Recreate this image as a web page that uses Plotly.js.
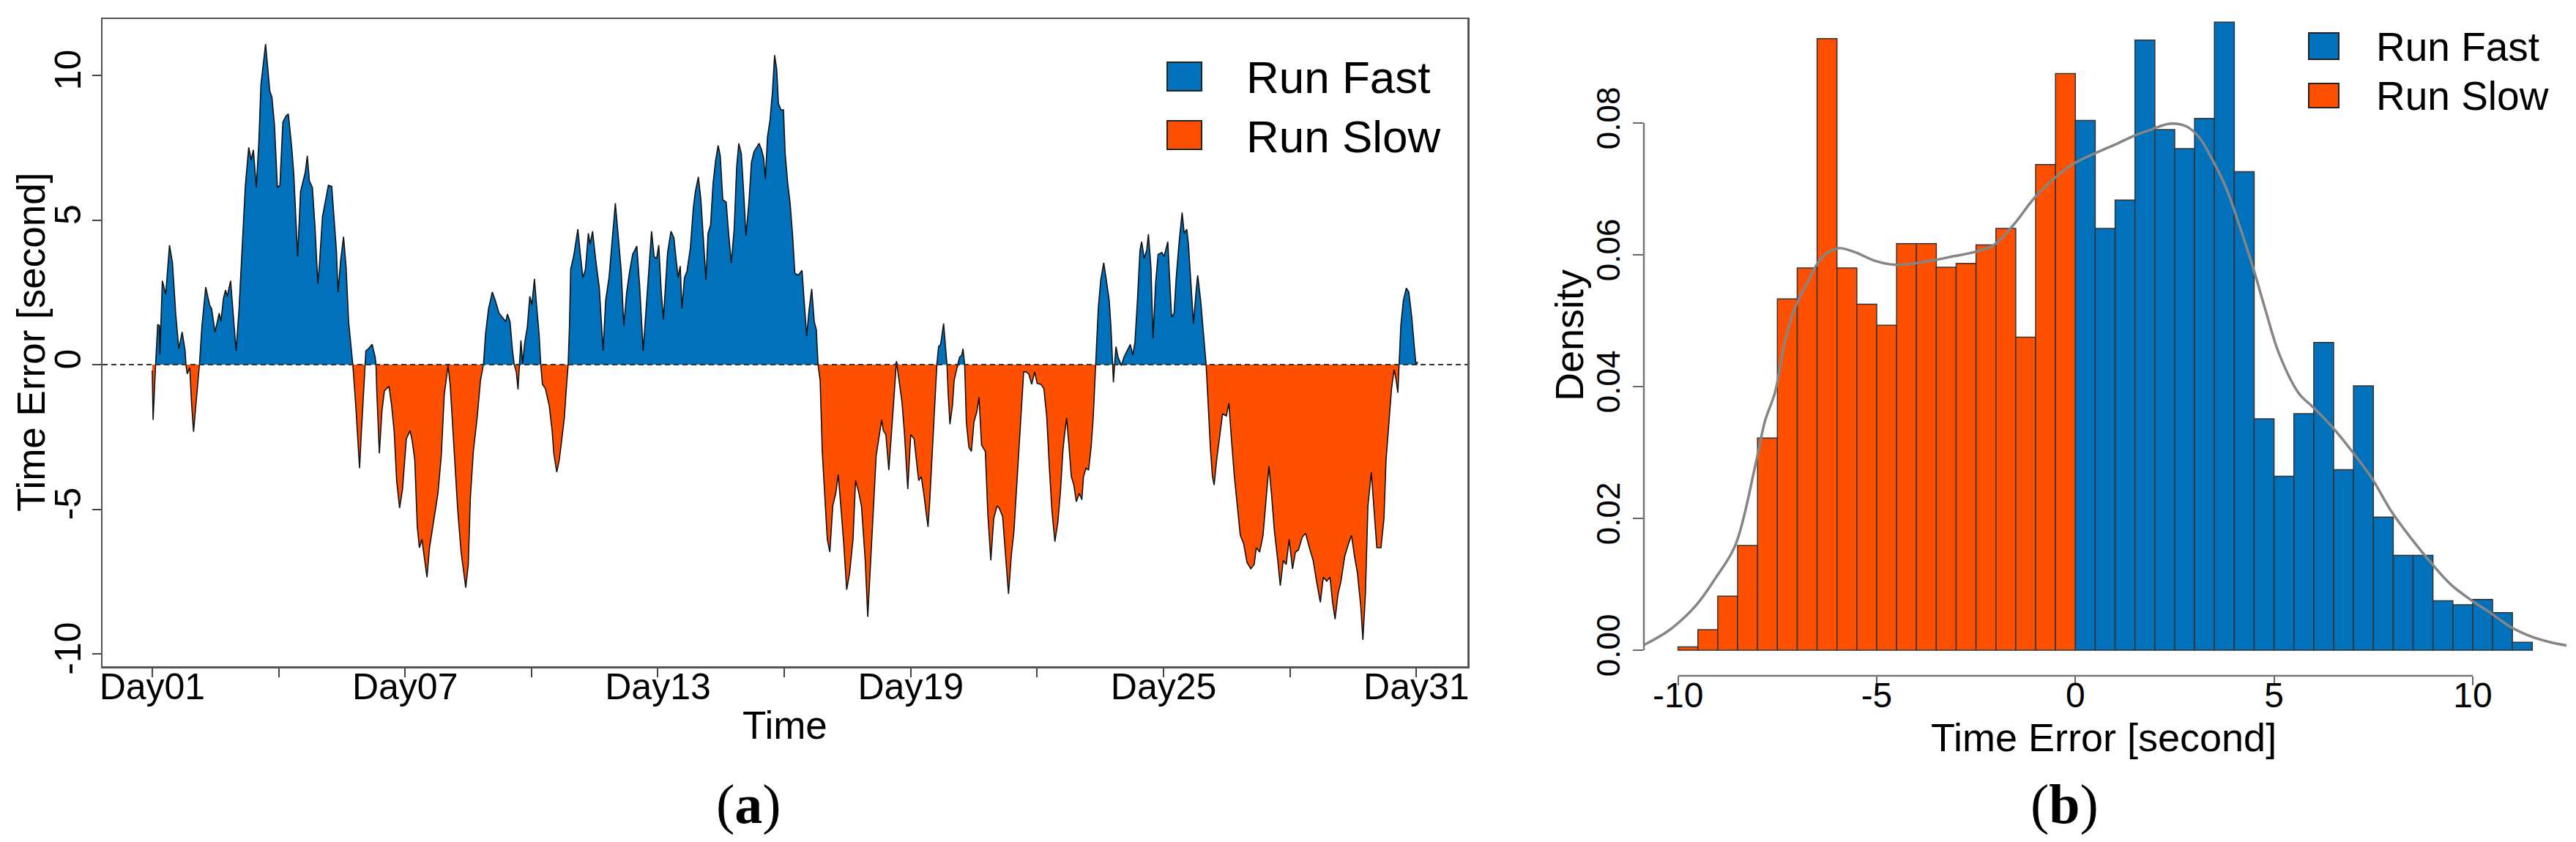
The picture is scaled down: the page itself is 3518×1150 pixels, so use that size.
<!DOCTYPE html>
<html>
<head>
<meta charset="utf-8">
<script src="https://cdn.plot.ly/plotly-3.0.1.min.js"></script>
<style>html,body{margin:0;padding:0;background:#fff;}#chart{width:3518px;height:1150px;}</style>
</head>
<body>
<div id="chart"></div>
<script>
// ---------- Panel (a): time error series (days since Day01) ----------
const timeDays = [0.00,0.02,0.08,0.13,0.17,0.18,0.24,0.32,0.41,0.48,0.56,0.63,0.71,0.78,0.80,0.83,0.89,0.93,0.98,1.06,1.12,1.18,1.27,1.36,1.41,1.49,1.59,1.63,1.69,1.74,1.78,1.86,1.93,1.99,2.06,2.14,2.21,2.29,2.35,2.40,2.47,2.53,2.58,2.69,2.79,2.84,2.90,2.97,3.03,3.10,3.17,3.23,3.31,3.36,3.45,3.52,3.63,3.68,3.73,3.80,3.86,3.93,3.97,4.04,4.12,4.18,4.26,4.32,4.37,4.41,4.47,4.54,4.60,4.66,4.76,4.83,4.92,4.96,5.04,5.07,5.13,5.22,5.29,5.31,5.33,5.39,5.45,5.51,5.62,5.68,5.74,5.80,5.87,5.94,
6.03,6.12,6.17,6.23,6.29,6.34,6.40,6.45,6.52,6.58,6.64,6.71,6.78,6.86,6.93,7.02,7.07,7.16,7.25,7.33,7.39,7.44,7.50,7.55,7.62,7.71,7.79,7.86,7.91,7.98,8.07,8.14,8.23,8.31,8.39,8.43,8.49,8.55,8.59,8.64,8.68,8.71,8.75,8.79,8.84,8.90,8.96,9.01,9.07,9.12,9.18,9.22,9.26,9.33,9.42,9.49,9.53,9.60,9.66,9.72,9.78,9.82,9.87,9.90,9.93,10.00,10.10,10.16,10.22,10.28,10.35,10.39,10.45,10.52,10.61,10.70,10.76,10.84,10.91,10.99,11.07,11.13,11.19,11.26,11.33,11.40,11.50,11.57,11.65,11.71,11.78,11.85,11.91,11.97,12.02,
12.08,12.13,12.19,12.23,12.31,12.38,12.43,12.48,12.53,12.57,12.63,12.69,12.77,12.84,12.89,12.96,13.02,13.08,13.14,13.19,13.25,13.31,13.37,13.43,13.48,13.54,13.62,13.67,13.74,13.81,13.87,13.92,13.98,14.04,14.09,14.16,14.22,14.28,14.34,14.40,14.46,14.51,14.55,14.60,14.66,14.72,14.77,14.82,14.86,14.92,14.98,15.02,15.08,15.14,15.20,15.25,15.33,15.42,15.47,15.53,15.59,15.65,15.71,15.76,15.80,15.85,15.90,15.96,16.02,16.08,16.15,16.22,16.28,16.34,16.41,16.48,16.55,16.63,16.69,16.76,16.83,16.92,16.98,17.05,17.12,17.18,17.24,17.31,17.35,17.41,17.48,17.56,17.61,17.66,17.71,17.79,17.85,17.93,18.00,18.08,
18.16,18.19,18.25,18.31,18.37,18.41,18.45,18.51,18.56,18.62,18.66,18.71,18.78,18.83,18.86,18.89,18.93,18.99,19.03,19.10,19.16,19.21,19.24,19.28,19.32,19.38,19.44,19.50,19.57,19.62,19.68,19.77,19.83,19.90,19.97,20.05,20.10,20.18,20.25,20.32,20.39,20.45,20.51,20.57,20.63,20.68,20.74,20.80,20.87,20.94,21.00,21.09,21.16,21.23,21.29,21.35,21.42,21.49,21.55,21.61,21.65,21.70,21.75,21.81,21.87,21.93,22.00,22.06,22.10,22.16,22.22,22.28,22.33,22.39,22.45,22.51,22.58,22.64,22.71,22.75,22.79,22.81,22.84,22.87,22.92,23.00,23.06,23.14,23.21,23.27,23.32,23.38,23.44,23.48,23.54,23.60,23.64,23.70,23.75,23.81,23.87,23.96,24.01,
24.05,24.10,24.14,24.19,24.25,24.30,24.37,24.44,24.49,24.55,24.59,24.65,24.71,24.77,24.81,24.88,24.94,25.01,25.06,25.11,25.16,25.20,25.26,25.32,25.40,25.49,25.55,25.61,25.68,25.75,25.82,25.90,25.98,26.07,26.15,26.20,26.28,26.36,26.44,26.50,26.56,26.63,26.71,26.77,26.84,26.91,26.98,27.06,27.13,27.20,27.29,27.37,27.46,27.55,27.63,27.72,27.79,27.87,27.95,28.01,28.07,28.14,28.21,28.30,28.39,28.46,28.53,28.60,28.68,28.73,28.79,28.85,28.93,28.99,29.06,29.16,29.23,29.28,29.34,29.41,29.47,29.52,29.56,29.59,29.63,29.69,29.76,29.82,29.89,29.95,29.99,30.03];

const timeError = [-0.2,-1.91,0,1.39,1.35,0.36,2.9,2.43,4.13,3.52,1.71,0.55,1.13,0.48,0,-0.32,-0.1,-1.26,-2.32,-0.97,0,1.35,2.68,2.07,1.93,1.13,1.78,1.49,2.29,2.58,2.36,2.9,1.64,0.48,1.93,4.25,6.2,7.51,7.07,7.43,6.13,7.72,9.68,11.09,9.46,9.25,8.3,6.13,6.2,8.38,8.59,8.67,7.51,6.57,3.74,5.99,6.64,7.22,6.35,6.13,4.83,2.8,3.52,5.12,5.7,6.2,6.16,4.97,3.96,2.51,3.59,4.42,3.38,1.49,0,-1.41,-3.58,-2.42,-0.1,0.48,0.55,0.7,0.26,0,-0.97,-3.07,-1.62,-0.9,-0.75,-1.41,-2.28,-4.01,-4.96,-4.3,
-2.57,-2.28,-2.64,-3.29,-5.61,-6.33,-6.04,-6.62,-7.35,-6.33,-5.75,-5.03,-4.45,-3.14,-1.04,-0.03,-0.68,-2.86,-5.03,-6.48,-7.2,-7.71,-6.91,-4.59,-3.0,-1.84,-0.54,0,1.06,1.93,2.51,2.22,1.78,1.64,1.49,1.75,1.49,0.48,0,-0.25,-0.86,-0.1,0.84,0.04,0.77,1.28,2.36,2.07,2.97,2.07,1.06,0,-0.68,-0.83,-1.41,-2.28,-3.07,-3.72,-3.29,-2.57,-1.84,-0.97,0,1.28,3.3,3.74,4.68,3.81,3.01,3.3,4.54,4.17,4.61,3.67,2.65,0.48,2.22,3.01,4.17,5.58,4.25,3.23,1.35,2.51,3.23,3.81,4.1,2.65,0.48,1.71,3.38,4.61,3.74,3.67,4.13,
2.51,1.57,2.8,3.88,4.61,4.39,3.67,3.01,3.41,1.93,3.01,3.23,4.03,5.41,5.99,6.49,5.7,4.25,2.94,4.54,4.83,6.28,7.07,7.58,7.22,5.7,5.62,4.68,3.52,4.68,6.86,7.65,7.29,5.84,4.46,5.62,7.0,7.36,7.51,7.65,7.43,7.14,6.42,7.87,8.45,9.46,10.7,10.2,9.03,8.81,8.81,7.29,6.28,5.55,4.39,3.16,3.09,3.26,2.22,0.99,1.93,2.62,1.49,1.2,0,-0.54,-3.0,-4.59,-6.04,-6.48,-4.88,-4.45,-3.8,-4.88,-6.19,-7.78,-7.2,-6.04,-4.01,-4.38,-4.88,-6.77,-8.72,-6.77,-4.74,-3.14,-2.57,-1.91,-2.28,-2.42,-3.65,-2.13,-0.97,0.12,-0.39,-1.26,-2.35,-4.3,-2.42,-2.57,
-3.65,-4.01,-3.87,-4.45,-5.17,-5.61,-4.74,-3.0,-1.55,0,0.62,0.7,1.42,0.62,0,-1.04,-2.06,-1.41,-0.54,-0.1,0.26,0.33,0.55,0,-1.99,-2.86,-3.0,-1.99,-1.62,-1.12,-2.78,-3.0,-5.17,-6.77,-5.32,-4.88,-4.96,-5.25,-6.48,-7.93,-6.55,-5.75,-4.3,-2.86,-1.55,-0.25,-0.25,-0.32,-0.68,-0.25,-0.65,-0.68,-0.83,-1.84,-3.58,-5.03,-6.12,-5.46,-4.45,-3.0,-2.42,-1.84,-2.71,-3.87,-4.16,-4.74,-4.45,-4.67,-3.87,-3.58,-3.65,-2.86,-1.84,0,1.93,2.94,3.52,2.94,2.22,1.35,0,-0.61,0.04,0.62,0.26,-0.03,0.26,0.48,0.7,0.33,0.77,2.22,3.96,4.25,3.67,3.96,4.51,3.38,0.91,2.8,3.81,3.88,3.74,
3.96,4.25,3.09,1.64,1.78,3.01,4.25,5.26,4.54,4.68,4.17,2.8,1.42,2.51,3.09,2.22,1.28,0,-1.41,-2.86,-3.87,-4.16,-3.29,-2.57,-1.7,-1.77,-1.33,-2.57,-3.87,-4.88,-5.9,-6.19,-6.84,-7.06,-6.91,-6.33,-6.48,-5.9,-4.45,-3.51,-4.45,-5.75,-6.77,-7.64,-6.77,-6.91,-6.04,-7.06,-6.48,-6.41,-5.97,-5.83,-6.33,-6.77,-7.49,-8.22,-7.35,-7.49,-7.35,-8.22,-8.8,-7.93,-7.49,-6.62,-6.19,-5.9,-6.62,-7.2,-8.36,-9.52,-7.93,-4.88,-3.72,-5.03,-6.33,-6.33,-5.32,-3.29,-2.13,-0.83,-0.17,-0.54,-0.97,0,1.35,2.22,2.65,2.51,1.64,0.62,0,0.1];

const dayTickVals = [0,3,6,9,12,15,18,21,24,27,30];
const dayTickText = ["Day01","","Day07","","Day13","","Day19","","Day25","","Day31"];
const errTickVals = [-10,-5,0,5,10];
const errTickText = ["-10","-5","0","5","10"];

// ---------- Panel (b): histogram (bin start, width 0.5) ----------
const slowBins = [-10,-9.5,-9,-8.5,-8,-7.5,-7,-6.5,-6,-5.5,-5,-4.5,-4,-3.5,-3,-2.5,-2,-1.5,-1,-0.5];
const slowDensity = [0.0005,0.0031,0.0082,0.0159,0.0322,0.0533,0.0580,0.0928,0.0580,0.0525,0.0493,0.0617,0.0617,0.0581,0.0587,0.0615,0.0640,0.0475,0.0737,0.0875];
const fastBins = [0,0.5,1,1.5,2,2.5,3,3.5,4,4.5,5,5.5,6,6.5,7,7.5,8,8.5,9,9.5,10,10.5,11];
const fastDensity = [0.0804,0.0640,0.0683,0.0926,0.0790,0.0761,0.0807,0.0953,0.0726,0.0351,0.0264,0.0359,0.0467,0.0274,0.0401,0.0202,0.0144,0.0144,0.0075,0.0069,0.0077,0.0057,0.0012];
const binWidth = 0.5;
const kdeX = [-10.89,-10.23,-9.56,-9.06,-8.56,-8.06,-7.81,-7.56,-7.31,-7.06,-6.72,-6.39,-5.97,-5.55,-5.05,-4.56,-4.05,-3.55,-3.05,-2.55,-2.05,-1.55,-1.05,-0.55,-0.05,0.45,0.95,1.45,1.95,2.37,2.79,3.12,3.45,3.79,4.12,4.46,4.79,5.12,5.62,5.96,6.46,6.96,7.46,7.96,8.46,8.96,9.46,9.96,10.46,10.96,11.46,11.96,12.38];
const kdeY = [0.0007,0.0030,0.0067,0.0109,0.0159,0.0279,0.0348,0.0391,0.0468,0.0519,0.0561,0.0595,0.0610,0.0604,0.0591,0.0585,0.0587,0.0592,0.0598,0.0604,0.0615,0.0646,0.0685,0.0715,0.0738,0.0753,0.0766,0.0780,0.0791,0.0799,0.0795,0.0778,0.0744,0.0702,0.0646,0.0583,0.0515,0.0451,0.0390,0.0370,0.0339,0.0302,0.0261,0.0210,0.0169,0.0132,0.0099,0.0076,0.0056,0.0035,0.0021,0.0012,0.0007];
const errBTickVals = [-10,-5,0,5,10];
const errBTickText = ["-10","-5","0","5","10"];
const densTickVals = [0,0.02,0.04,0.06,0.08];
const densTickText = ["0.00","0.02","0.04","0.06","0.08"];

const legendNames = ["Run Fast","Run Slow"];
const BLUE = "#0071BA", ORANGE = "#FF5000";

// ---------- geometry helpers (paper coords from pixel positions) ----------
const W = 3518, H = 1150;
const px = x => x / W, py = y => 1 - y / H;
const FONT = "Liberation Sans, Arial, sans-serif";

const posErr = timeError.map(v => v > 0 ? v : 0);
const negErr = timeError.map(v => v < 0 ? v : 0);

const traces = [
  {x: timeDays, y: negErr, type: "scatter", mode: "lines", fill: "tozeroy", fillcolor: ORANGE,
   line: {width: 0, color: ORANGE}, xaxis: "x", yaxis: "y", hoverinfo: "skip", showlegend: false},
  {x: timeDays, y: posErr, type: "scatter", mode: "lines", fill: "tozeroy", fillcolor: BLUE,
   line: {width: 0, color: BLUE}, xaxis: "x", yaxis: "y", hoverinfo: "skip", showlegend: false},
  {x: timeDays, y: timeError, type: "scatter", mode: "lines", line: {width: 1.6, color: "#111"},
   xaxis: "x", yaxis: "y", showlegend: false},
  {x: slowBins, y: slowDensity, type: "bar", width: binWidth, offset: 0, marker: {color: ORANGE, line: {color: "#333", width: 1.5}},
   xaxis: "x2", yaxis: "y2", showlegend: false},
  {x: fastBins, y: fastDensity, type: "bar", width: binWidth, offset: 0, marker: {color: BLUE, line: {color: "#333", width: 1.5}},
   xaxis: "x2", yaxis: "y2", showlegend: false},
  {x: kdeX, y: kdeY, type: "scatter", mode: "lines", line: {width: 3.5, color: "#858585", shape: "spline"},
   xaxis: "x2", yaxis: "y2", showlegend: false}
];

const tickFont = {family: FONT, size: 50, color: "#000"};
const layout = {
  width: W, height: H, margin: {l: 0, r: 0, t: 0, b: 0}, paper_bgcolor: "#fff", plot_bgcolor: "rgba(0,0,0,0)",
  showlegend: false, bargap: 0,
  xaxis: {domain: [px(140), px(2004)], range: [-1.18, 31.21], anchor: "y", tickvals: dayTickVals, ticktext: dayTickText,
    ticks: "outside", ticklen: 12, tickwidth: 2, tickcolor: "#444", showline: true, mirror: true, linecolor: "#555", linewidth: 2.5,
    showgrid: false, zeroline: false, tickfont: tickFont, automargin: false, ticklabelstandoff: -30, fixedrange: true},
  yaxis: {domain: [py(910), py(26)], range: [-10.43, 11.95], anchor: "x", tickvals: errTickVals, ticktext: errTickText, tickangle: -90,
    ticks: "outside", ticklen: 12, tickwidth: 2, tickcolor: "#444", showline: true, mirror: true, linecolor: "#555", linewidth: 2.5,
    showgrid: false, zeroline: false, tickfont: tickFont, automargin: false, ticklabelstandoff: -4, fixedrange: true},
  xaxis2: {domain: [px(2245), px(3505)], range: [-10.86, 12.36], anchor: "y2", tickvals: errBTickVals, ticktext: errBTickText,
    ticks: "outside", ticklen: 12, tickwidth: 2, tickcolor: "#666", showline: false, showgrid: false, zeroline: false,
    tickfont: {family: FONT, size: 48, color: "#000"}, automargin: false, ticklabelstandoff: -28, fixedrange: true},
  yaxis2: {domain: [py(923), 1], range: [-0.00389, 0.09867], anchor: "x2", tickvals: densTickVals, ticktext: densTickText, tickangle: -90,
    ticks: "outside", ticklen: 14, tickwidth: 2, tickcolor: "#666", showline: false, showgrid: false, zeroline: false,
    tickfont: {family: FONT, size: 44, color: "#000"}, automargin: false, ticklabelstandoff: 0, fixedrange: true},
  shapes: [
    {type: "line", xref: "x domain", x0: 0, x1: 1, yref: "y", y0: 0, y1: 0, layer: "above", line: {color: "#333", width: 2, dash: "7px,5px"}},
    {type: "line", xref: "x2", x0: errBTickVals[0], x1: errBTickVals[errBTickVals.length - 1], yref: "y2 domain", y0: 0, y1: 0, line: {color: "#777", width: 2.5}},
    {type: "line", xref: "x2 domain", x0: 0, x1: 0, yref: "y2", y0: densTickVals[0], y1: densTickVals[densTickVals.length - 1], line: {color: "#777", width: 2.5}},
    // legend keys (a)
    {type: "rect", xref: "paper", yref: "paper", x0: px(1594), x1: px(1641), y0: py(124), y1: py(85), fillcolor: BLUE, line: {color: "#222", width: 2}},
    {type: "rect", xref: "paper", yref: "paper", x0: px(1594), x1: px(1641), y0: py(204), y1: py(165), fillcolor: ORANGE, line: {color: "#222", width: 2}},
    // legend keys (b)
    {type: "rect", xref: "paper", yref: "paper", x0: px(3153), x1: px(3194), y0: py(81), y1: py(45), fillcolor: BLUE, line: {color: "#222", width: 2}},
    {type: "rect", xref: "paper", yref: "paper", x0: px(3153), x1: px(3194), y0: py(147), y1: py(114), fillcolor: ORANGE, line: {color: "#222", width: 2}}
  ],
  annotations: [
    {text: "Time", xref: "paper", yref: "paper", x: px(1072), y: py(990), xanchor: "center", yanchor: "middle", showarrow: false, font: {family: FONT, size: 53, color: "#000"}},
    {text: "Time Error [second]", xref: "paper", yref: "paper", x: px(42), y: py(468), xanchor: "center", yanchor: "middle", textangle: -90, showarrow: false, font: {family: FONT, size: 53, color: "#000"}},
    {text: "Time Error [second]", xref: "paper", yref: "paper", x: px(2873), y: py(1007), xanchor: "center", yanchor: "middle", showarrow: false, font: {family: FONT, size: 54, color: "#000"}},
    {text: "Density", xref: "paper", yref: "paper", x: px(2143), y: py(458), xanchor: "center", yanchor: "middle", textangle: -90, showarrow: false, font: {family: FONT, size: 54, color: "#000"}},
    {text: legendNames[0], xref: "paper", yref: "paper", x: px(1700), y: py(106), xanchor: "left", yanchor: "middle", showarrow: false, font: {family: FONT, size: 62, color: "#000"}},
    {text: legendNames[1], xref: "paper", yref: "paper", x: px(1700), y: py(186), xanchor: "left", yanchor: "middle", showarrow: false, font: {family: FONT, size: 62, color: "#000"}},
    {text: legendNames[0], xref: "paper", yref: "paper", x: px(3243), y: py(64), xanchor: "left", yanchor: "middle", showarrow: false, font: {family: FONT, size: 55, color: "#000"}},
    {text: legendNames[1], xref: "paper", yref: "paper", x: px(3243), y: py(131), xanchor: "left", yanchor: "middle", showarrow: false, font: {family: FONT, size: 55, color: "#000"}},
    {text: "(<b>a</b>)", xref: "paper", yref: "paper", x: px(1023), y: py(1098), xanchor: "center", yanchor: "middle", showarrow: false, font: {family: "Liberation Serif, Times New Roman, serif", size: 76, color: "#000"}},
    {text: "(<b>b</b>)", xref: "paper", yref: "paper", x: px(2819), y: py(1098), xanchor: "center", yanchor: "middle", showarrow: false, font: {family: "Liberation Serif, Times New Roman, serif", size: 76, color: "#000"}}
  ]
};

Plotly.newPlot("chart", traces, layout, {displayModeBar: false, staticPlot: true});
</script>
</body>
</html>
